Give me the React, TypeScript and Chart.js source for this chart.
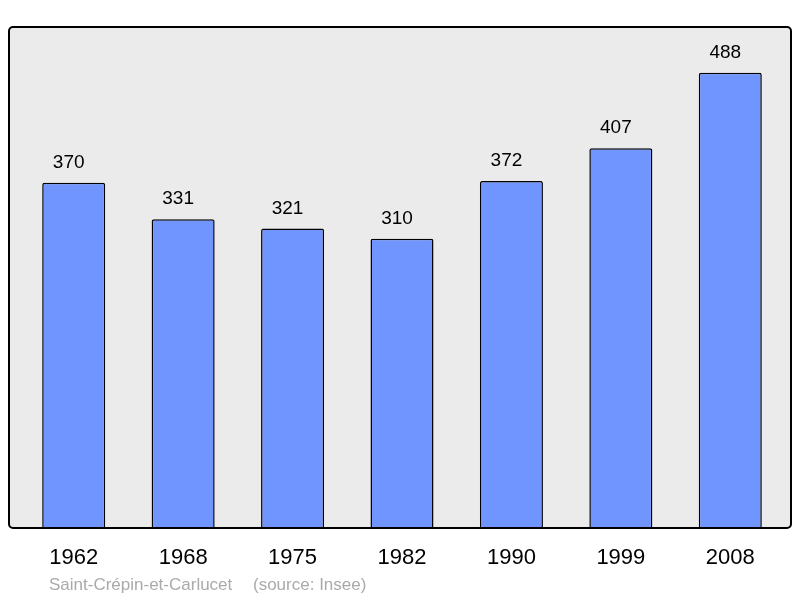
import React, { useEffect, useRef } from "react";
import { Chart, registerables } from "chart.js";

Chart.register(...registerables);

const years = ["1962", "1968", "1975", "1982", "1990", "1999", "2008"];
const population = [370, 331, 321, 310, 372, 407, 488];
const townName = "Saint-Crépin-et-Carlucet";
const sourceText = "(source: Insee)";

const FONT = "'Liberation Sans', Arial, sans-serif";

export default function App() {
  const ref = useRef<HTMLCanvasElement | null>(null);

  useEffect(() => {
    document.body.style.margin = "0";
    const canvas = ref.current;
    if (!canvas) return;

    const framePlugin = {
      id: "frame",
      beforeDatasetsDraw(chart: any) {
        const ctx = chart.ctx;
        ctx.save();
        ctx.beginPath();
        ctx.roundRect(9, 27, 782, 501, 4);
        ctx.fillStyle = "#ebebeb";
        ctx.fill();
        ctx.restore();
      },
      afterDatasetsDraw(chart: any) {
        const ctx = chart.ctx;
        ctx.save();
        ctx.beginPath();
        ctx.roundRect(9, 27, 782, 501, 4);
        ctx.lineWidth = 2;
        ctx.strokeStyle = "#000";
        ctx.stroke();
        // value labels
        const meta = chart.getDatasetMeta(0);
        ctx.fillStyle = "#000";
        ctx.font = `19px ${FONT}`;
        ctx.textAlign = "center";
        ctx.textBaseline = "alphabetic";
        meta.data.forEach((bar: any, i: number) => {
          ctx.fillText(String(population[i]), bar.x - 5, bar.y - 15);
        });
        // footer
        ctx.font = `17px ${FONT}`;
        ctx.fillStyle = "#aaaaaa";
        ctx.textAlign = "left";
        ctx.fillText(townName, 49, 590);
        ctx.fillText(sourceText, 253, 590);
        ctx.restore();
      },
    };

    const chart = new Chart(canvas, {
      type: "bar",
      data: {
        labels: years,
        datasets: [
          {
            data: population,
            backgroundColor: "#7095ff",
            borderColor: "#000",
            borderWidth: 1.5,
            borderRadius: 2,
            barPercentage: 0.576,
            categoryPercentage: 1,
          },
        ],
      },
      options: {
        responsive: false,
        animation: false,
        layout: { padding: { left: 19, right: 15, top: 27, bottom: 30 } },
        plugins: { legend: { display: false }, tooltip: { enabled: false } },
        scales: {
          y: { display: false, min: 0, max: 537 },
          x: {
            grid: { display: false, drawTicks: false },
            border: { display: false },
            ticks: {
              color: "#000",
              font: { size: 22, family: FONT },
              padding: 17,
              maxRotation: 0,
            },
            afterFit(scale: any) {
              scale.height = 40;
            },
          },
        },
      },
      plugins: [framePlugin],
    });
    return () => chart.destroy();
  }, []);

  return <canvas ref={ref} width={800} height={598} style={{ display: "block" }} />;
}
